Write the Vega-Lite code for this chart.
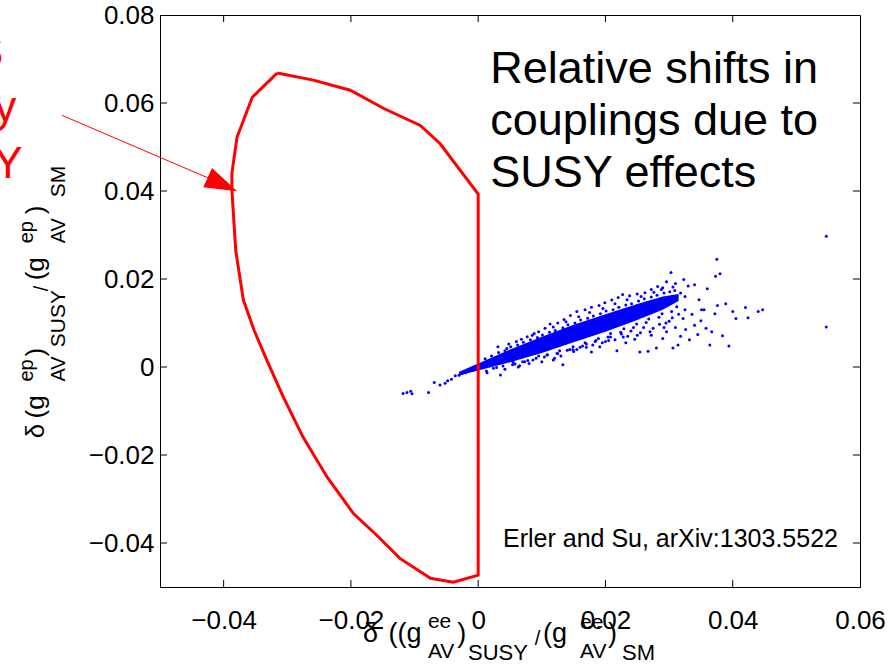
{
"$schema": "https://vega.github.io/schema/vega-lite/v6.json",
"width": 700, "height": 572,
"autosize": {"type": "none"},
"padding": {"left": 160, "top": 15, "right": 29, "bottom": 80},
"background": "white",
"data": {"values": [{}]},
"config": {
  "view": {"stroke": "black", "strokeWidth": 1},
  "axis": {"labelFont": "Liberation Sans", "labelFontSize": 26, "labelColor": "black", "tickColor": "black", "domainColor": "black", "grid": false, "labelFlush": false},
  "text": {"font": "Liberation Sans"}
},
"resolve": {"axis": {"x": "independent", "y": "independent"}},
"datasets": {
  "xt": [{"v": -0.04}, {"v": -0.02}, {"v": 0}, {"v": 0.02}, {"v": 0.04}],
  "yt": [{"v": -0.04}, {"v": -0.02}, {"v": 0}, {"v": 0.02}, {"v": 0.04}, {"v": 0.06}],
  "core": [
    {"ee": -0.003, "lo": -0.0019, "hi": -0.0011},
    {"ee": 0.0, "lo": -0.0008, "hi": 0.0008},
    {"ee": 0.005, "lo": 0.0011, "hi": 0.0040},
    {"ee": 0.010, "lo": 0.0032, "hi": 0.0069},
    {"ee": 0.015, "lo": 0.0056, "hi": 0.0096},
    {"ee": 0.020, "lo": 0.0080, "hi": 0.0120},
    {"ee": 0.025, "lo": 0.0107, "hi": 0.0143},
    {"ee": 0.029, "lo": 0.0130, "hi": 0.0160},
    {"ee": 0.0315, "lo": 0.0150, "hi": 0.0166}
  ],
  "pts": [
    {"ee": -0.0118, "ep": -0.0060}, {"ee": -0.0112, "ep": -0.0058}, {"ee": -0.0106, "ep": -0.0055}, {"ee": -0.0104, "ep": -0.0061},
    {"ee": -0.0078, "ep": -0.0058}, {"ee": -0.0069, "ep": -0.0035}, {"ee": -0.0060, "ep": -0.0041}, {"ee": -0.0052, "ep": -0.0037},
    {"ee": -0.0048, "ep": -0.0031}, {"ee": -0.0042, "ep": -0.0028}, {"ee": -0.0036, "ep": -0.0020}, {"ee": -0.0030, "ep": -0.0019},
    {"ee": -0.0025, "ep": -0.0015}, {"ee": -0.0020, "ep": -0.0013}, {"ee": -0.0016, "ep": -0.0010}, {"ee": -0.0012, "ep": -0.0006},
    {"ee": -0.0009, "ep": -0.0008}, {"ee": -0.0006, "ep": -0.0003},
    {"ee": 0.0031, "ep": 0.0046}, {"ee": 0.0045, "ep": 0.0042}, {"ee": 0.0060, "ep": 0.0058}, {"ee": 0.0077, "ep": 0.0069},
    {"ee": 0.0085, "ep": 0.0072}, {"ee": 0.0095, "ep": 0.0080}, {"ee": 0.0105, "ep": 0.0088}, {"ee": 0.0113, "ep": 0.0098},
    {"ee": 0.0125, "ep": 0.0100}, {"ee": 0.0135, "ep": 0.0108}, {"ee": 0.0145, "ep": 0.0117}, {"ee": 0.0155, "ep": 0.0126},
    {"ee": 0.0168, "ep": 0.0130}, {"ee": 0.0178, "ep": 0.0136}, {"ee": 0.0190, "ep": 0.0140}, {"ee": 0.0199, "ep": 0.0146},
    {"ee": 0.0210, "ep": 0.0152}, {"ee": 0.0220, "ep": 0.0158}, {"ee": 0.0227, "ep": 0.0165}, {"ee": 0.0238, "ep": 0.0162},
    {"ee": 0.0250, "ep": 0.0166}, {"ee": 0.0262, "ep": 0.0169}, {"ee": 0.0272, "ep": 0.0176}, {"ee": 0.0282, "ep": 0.0183},
    {"ee": 0.0290, "ep": 0.0180}, {"ee": 0.0296, "ep": 0.0194}, {"ee": 0.0303, "ep": 0.0215}, {"ee": 0.0310, "ep": 0.0190},
    {"ee": 0.0323, "ep": 0.0199}, {"ee": 0.0330, "ep": 0.0184}, {"ee": 0.0340, "ep": 0.0187}, {"ee": 0.0347, "ep": 0.0153},
    {"ee": 0.0351, "ep": 0.0130}, {"ee": 0.0360, "ep": 0.0178},
    {"ee": 0.0014, "ep": -0.0013}, {"ee": 0.0035, "ep": -0.0018}, {"ee": 0.0042, "ep": -0.0005}, {"ee": 0.0055, "ep": 0.0011},
    {"ee": 0.0063, "ep": 0.0000}, {"ee": 0.0070, "ep": 0.0012}, {"ee": 0.0086, "ep": 0.0016}, {"ee": 0.0095, "ep": 0.0025},
    {"ee": 0.0108, "ep": 0.0027}, {"ee": 0.0118, "ep": 0.0016}, {"ee": 0.0125, "ep": 0.0030}, {"ee": 0.0133, "ep": 0.0005},
    {"ee": 0.0140, "ep": 0.0038}, {"ee": 0.0149, "ep": 0.0039}, {"ee": 0.0160, "ep": 0.0045}, {"ee": 0.0170, "ep": 0.0052},
    {"ee": 0.0178, "ep": 0.0034}, {"ee": 0.0185, "ep": 0.0060}, {"ee": 0.0191, "ep": 0.0046}, {"ee": 0.0200, "ep": 0.0058},
    {"ee": 0.0208, "ep": 0.0068}, {"ee": 0.0218, "ep": 0.0037}, {"ee": 0.0225, "ep": 0.0075}, {"ee": 0.0232, "ep": 0.0055},
    {"ee": 0.0240, "ep": 0.0082}, {"ee": 0.0246, "ep": 0.0063}, {"ee": 0.0254, "ep": 0.0034}, {"ee": 0.0260, "ep": 0.0090},
    {"ee": 0.0267, "ep": 0.0036}, {"ee": 0.0272, "ep": 0.0072}, {"ee": 0.0280, "ep": 0.0043}, {"ee": 0.0285, "ep": 0.0097},
    {"ee": 0.0290, "ep": 0.0065}, {"ee": 0.0296, "ep": 0.0080}, {"ee": 0.0300, "ep": 0.0104}, {"ee": 0.0306, "ep": 0.0043},
    {"ee": 0.0310, "ep": 0.0090}, {"ee": 0.0314, "ep": 0.0050}, {"ee": 0.0318, "ep": 0.0070}, {"ee": 0.0322, "ep": 0.0110},
    {"ee": 0.0326, "ep": 0.0085}, {"ee": 0.0332, "ep": 0.0062}, {"ee": 0.0336, "ep": 0.0120}, {"ee": 0.0340, "ep": 0.0095},
    {"ee": 0.0345, "ep": 0.0074}, {"ee": 0.0350, "ep": 0.0105}, {"ee": 0.0355, "ep": 0.0130}, {"ee": 0.0358, "ep": 0.0088},
    {"ee": 0.0364, "ep": 0.0050}, {"ee": 0.0367, "ep": 0.0080}, {"ee": 0.0372, "ep": 0.0121}, {"ee": 0.0376, "ep": 0.0140},
    {"ee": 0.0384, "ep": 0.0071}, {"ee": 0.0389, "ep": 0.0144}, {"ee": 0.0394, "ep": 0.0048}, {"ee": 0.0400, "ep": 0.0126},
    {"ee": 0.0405, "ep": 0.0110}, {"ee": 0.0420, "ep": 0.0135}, {"ee": 0.0424, "ep": 0.0112}, {"ee": 0.0440, "ep": 0.0126},
    {"ee": 0.0447, "ep": 0.0130},
    {"ee": 0.0373, "ep": 0.0206}, {"ee": 0.0380, "ep": 0.0212}, {"ee": 0.0375, "ep": 0.0245}, {"ee": 0.0547, "ep": 0.0297}, {"ee": 0.0547, "ep": 0.0091},
    {"ee": 0.0011, "ep": 0.0019}, {"ee": 0.0013, "ep": -0.0009}, {"ee": 0.0021, "ep": 0.0025}, {"ee": 0.0024, "ep": -0.0003},
    {"ee": 0.0032, "ep": 0.0033}, {"ee": 0.0029, "ep": -0.0001}, {"ee": 0.0042, "ep": 0.0037}, {"ee": 0.0039, "ep": 0.0002},
    {"ee": 0.0051, "ep": 0.0046}, {"ee": 0.0054, "ep": 0.0005}, {"ee": 0.0062, "ep": 0.0050}, {"ee": 0.0058, "ep": 0.0007},
    {"ee": 0.0071, "ep": 0.0056}, {"ee": 0.0073, "ep": 0.0012}, {"ee": 0.0082, "ep": 0.0062}, {"ee": 0.0078, "ep": 0.0015},
    {"ee": 0.0093, "ep": 0.0067}, {"ee": 0.0091, "ep": 0.0020}, {"ee": 0.0101, "ep": 0.0073}, {"ee": 0.0104, "ep": 0.0023},
    {"ee": 0.0112, "ep": 0.0079}, {"ee": 0.0109, "ep": 0.0028}, {"ee": 0.0121, "ep": 0.0083}, {"ee": 0.0124, "ep": 0.0031},
    {"ee": 0.0133, "ep": 0.0089}, {"ee": 0.0128, "ep": 0.0037}, {"ee": 0.0141, "ep": 0.0096}, {"ee": 0.0144, "ep": 0.0040},
    {"ee": 0.0152, "ep": 0.0100}, {"ee": 0.0149, "ep": 0.0046}, {"ee": 0.0161, "ep": 0.0107}, {"ee": 0.0164, "ep": 0.0048},
    {"ee": 0.0172, "ep": 0.0111}, {"ee": 0.0168, "ep": 0.0055}, {"ee": 0.0181, "ep": 0.0116}, {"ee": 0.0184, "ep": 0.0058},
    {"ee": 0.0192, "ep": 0.0121}, {"ee": 0.0189, "ep": 0.0065}, {"ee": 0.0201, "ep": 0.0127}, {"ee": 0.0204, "ep": 0.0068},
    {"ee": 0.0212, "ep": 0.0130}, {"ee": 0.0208, "ep": 0.0076}, {"ee": 0.0221, "ep": 0.0136}, {"ee": 0.0224, "ep": 0.0079},
    {"ee": 0.0232, "ep": 0.0141}, {"ee": 0.0229, "ep": 0.0087}, {"ee": 0.0241, "ep": 0.0144}, {"ee": 0.0244, "ep": 0.0090},
    {"ee": 0.0252, "ep": 0.0150}, {"ee": 0.0249, "ep": 0.0098}, {"ee": 0.0261, "ep": 0.0155}, {"ee": 0.0264, "ep": 0.0101},
    {"ee": 0.0272, "ep": 0.0159}, {"ee": 0.0268, "ep": 0.0109}, {"ee": 0.0281, "ep": 0.0163}, {"ee": 0.0284, "ep": 0.0113},
    {"ee": 0.0292, "ep": 0.0168}, {"ee": 0.0289, "ep": 0.0121}, {"ee": 0.0301, "ep": 0.0171}, {"ee": 0.0304, "ep": 0.0126},
    {"ee": 0.0309, "ep": 0.0174}, {"ee": 0.0312, "ep": 0.0137},
    {"ee": 0.0150, "ep": 0.0035}, {"ee": 0.0170, "ep": 0.0045}, {"ee": 0.0195, "ep": 0.0055}, {"ee": 0.0215, "ep": 0.0062},
    {"ee": 0.0235, "ep": 0.0070}, {"ee": 0.0255, "ep": 0.0078}, {"ee": 0.0275, "ep": 0.0088}, {"ee": 0.0295, "ep": 0.0100},
    {"ee": 0.0305, "ep": 0.0112}, {"ee": 0.0315, "ep": 0.0120}, {"ee": 0.0325, "ep": 0.0130}, {"ee": 0.0120, "ep": 0.0020},
    {"ee": 0.0100, "ep": 0.0012}, {"ee": 0.0080, "ep": 0.0008}, {"ee": 0.0065, "ep": 0.0003},
    {"ee": 0.0048, "ep": 0.0052}, {"ee": 0.0068, "ep": 0.0063}, {"ee": 0.0088, "ep": 0.0076}, {"ee": 0.0118, "ep": 0.0091},
    {"ee": 0.0138, "ep": 0.0103}, {"ee": 0.0158, "ep": 0.0114}, {"ee": 0.0175, "ep": 0.0124}, {"ee": 0.0196, "ep": 0.0133},
    {"ee": 0.0215, "ep": 0.0144}, {"ee": 0.0234, "ep": 0.0153}, {"ee": 0.0256, "ep": 0.0160}, {"ee": 0.0276, "ep": 0.0170},
    {"ee": 0.0288, "ep": 0.0176}, {"ee": 0.0306, "ep": 0.0182}, {"ee": 0.0318, "ep": 0.0168}, {"ee": 0.0325, "ep": 0.0160},
    {"ee": 0.0130, "ep": 0.0025}, {"ee": 0.0155, "ep": 0.0040}, {"ee": 0.0180, "ep": 0.0050}, {"ee": 0.0205, "ep": 0.0060},
    {"ee": 0.0228, "ep": 0.0068}, {"ee": 0.0250, "ep": 0.0072}, {"ee": 0.0270, "ep": 0.0080}, {"ee": 0.0292, "ep": 0.0090}
  ],
  "contour": [
    {"i": 0, "ee": -0.0316, "ep": 0.0668}, {"i": 1, "ee": -0.0355, "ep": 0.0613}, {"i": 2, "ee": -0.0379, "ep": 0.0522},
    {"i": 3, "ee": -0.0387, "ep": 0.0440}, {"i": 4, "ee": -0.0387, "ep": 0.0402}, {"i": 5, "ee": -0.0381, "ep": 0.0265},
    {"i": 6, "ee": -0.0369, "ep": 0.0152}, {"i": 7, "ee": -0.0352, "ep": 0.0083}, {"i": 8, "ee": -0.0332, "ep": 0.0015},
    {"i": 9, "ee": -0.0306, "ep": -0.0069}, {"i": 10, "ee": -0.0275, "ep": -0.0160}, {"i": 11, "ee": -0.0237, "ep": -0.0251},
    {"i": 12, "ee": -0.0196, "ep": -0.0333}, {"i": 13, "ee": -0.0159, "ep": -0.0383}, {"i": 14, "ee": -0.0123, "ep": -0.0435},
    {"i": 15, "ee": -0.0075, "ep": -0.0480}, {"i": 16, "ee": -0.0039, "ep": -0.0489}, {"i": 17, "ee": 0.0, "ep": -0.0473},
    {"i": 18, "ee": 0.0, "ep": 0.0393}, {"i": 19, "ee": -0.0060, "ep": 0.0508}, {"i": 20, "ee": -0.0091, "ep": 0.0549},
    {"i": 21, "ee": -0.0149, "ep": 0.0588}, {"i": 22, "ee": -0.0201, "ep": 0.0629}, {"i": 23, "ee": -0.0259, "ep": 0.0652},
    {"i": 24, "ee": -0.0316, "ep": 0.0668}
  ]
},
"layer": [
  {
    "data": {"name": "core"},
    "mark": {"type": "area", "color": "#0000ff"},
    "encoding": {
      "x": {"field": "ee", "type": "quantitative", "axis": null},
      "y": {"field": "lo", "type": "quantitative", "axis": null},
      "y2": {"field": "hi"}
    }
  },
  {
    "data": {"name": "pts"},
    "mark": {"type": "point", "filled": true, "size": 9, "color": "#0000ff", "opacity": 1},
    "encoding": {
      "x": {"field": "ee", "type": "quantitative", "scale": {"domain": [-0.05, 0.06], "nice": false, "zero": false},
            "axis": {"orient": "bottom", "values": [-0.04, -0.02, 0, 0.02, 0.04, 0.06], "format": ".2~f", "labelPadding": 20, "ticks": false, "title": null}},
      "y": {"field": "ep", "type": "quantitative", "scale": {"domain": [-0.05, 0.08], "nice": false, "zero": false},
            "axis": {"orient": "left", "values": [-0.04, -0.02, 0, 0.02, 0.04, 0.06, 0.08], "format": ".2~f", "labelPadding": 6, "ticks": false, "title": null}}
    }
  },
  {
    "data": {"name": "xt"},
    "mark": {"type": "rule", "color": "black", "strokeWidth": 1},
    "encoding": {
      "x": {"field": "v", "type": "quantitative", "axis": null},
      "y": {"datum": -0.05, "type": "quantitative", "axis": null},
      "y2": {"datum": -0.0484}
    }
  },
  {
    "data": {"name": "xt"},
    "mark": {"type": "rule", "color": "black", "strokeWidth": 1},
    "encoding": {
      "x": {"field": "v", "type": "quantitative", "axis": null},
      "y": {"datum": 0.08, "type": "quantitative", "axis": null},
      "y2": {"datum": 0.0784}
    }
  },
  {
    "data": {"name": "yt"},
    "mark": {"type": "rule", "color": "black", "strokeWidth": 1},
    "encoding": {
      "y": {"field": "v", "type": "quantitative", "axis": null},
      "x": {"datum": -0.05, "type": "quantitative", "axis": null},
      "x2": {"datum": -0.0489}
    }
  },
  {
    "data": {"name": "yt"},
    "mark": {"type": "rule", "color": "black", "strokeWidth": 1},
    "encoding": {
      "y": {"field": "v", "type": "quantitative", "axis": null},
      "x": {"datum": 0.06, "type": "quantitative", "axis": null},
      "x2": {"datum": 0.0589}
    }
  },
  {
    "data": {"name": "contour"},
    "mark": {"type": "line", "color": "#ff0000", "strokeWidth": 3, "strokeJoin": "miter"},
    "encoding": {
      "x": {"field": "ee", "type": "quantitative", "axis": null},
      "y": {"field": "ep", "type": "quantitative", "axis": null},
      "order": {"field": "i", "type": "quantitative"}
    }
  },
  {
    "mark": {"type": "rule", "color": "#ff0000", "strokeWidth": 1},
    "encoding": {
      "x": {"datum": -0.0654, "type": "quantitative", "axis": null},
      "y": {"datum": 0.0572, "type": "quantitative", "axis": null},
      "x2": {"datum": -0.0425},
      "y2": {"datum": 0.0430}
    }
  },
  {
    "mark": {"type": "point", "shape": "M 1 0 L -1 -0.65 L -1 0.65 Z", "filled": true, "color": "#ff0000", "opacity": 1, "size": 1050, "angle": 24.6},
    "encoding": {
      "x": {"datum": -0.0402, "type": "quantitative", "axis": null},
      "y": {"datum": 0.0415, "type": "quantitative", "axis": null}
    }
  },
  {
    "mark": {"type": "text", "text": "S", "fontSize": 44, "color": "#ff0000", "align": "right", "baseline": "alphabetic"},
    "encoding": {"x": {"datum": -0.0746, "type": "quantitative", "axis": null}, "y": {"datum": 0.0681, "type": "quantitative", "axis": null}}
  },
  {
    "mark": {"type": "text", "text": "y", "fontSize": 44, "color": "#ff0000", "align": "right", "baseline": "alphabetic"},
    "encoding": {"x": {"datum": -0.0726, "type": "quantitative", "axis": null}, "y": {"datum": 0.0556, "type": "quantitative", "axis": null}}
  },
  {
    "mark": {"type": "text", "text": "Y", "fontSize": 44, "color": "#ff0000", "align": "right", "baseline": "alphabetic"},
    "encoding": {"x": {"datum": -0.0716, "type": "quantitative", "axis": null}, "y": {"datum": 0.0430, "type": "quantitative", "axis": null}}
  },
  {
    "mark": {"type": "text", "text": ["Relative shifts in", "couplings due to", "SUSY effects"], "fontSize": 45, "lineHeight": 52, "color": "black", "align": "left", "baseline": "alphabetic"},
    "encoding": {"x": {"datum": 0.0019, "type": "quantitative", "axis": null}, "y": {"datum": 0.0645, "type": "quantitative", "axis": null}}
  },
  {
    "mark": {"type": "text", "text": "Erler and Su, arXiv:1303.5522", "fontSize": 25, "color": "black", "align": "left", "baseline": "alphabetic"},
    "encoding": {"x": {"datum": 0.0039, "type": "quantitative", "axis": null}, "y": {"datum": -0.0409, "type": "quantitative", "axis": null}}
  },
  {"mark": {"type": "text", "text": "δ", "fontSize": 27, "align": "left", "baseline": "alphabetic"},
   "encoding": {"x": {"datum": -0.0181, "type": "quantitative", "axis": null}, "y": {"datum": -0.0626, "type": "quantitative", "axis": null}}},
  {"mark": {"type": "text", "text": "((g", "fontSize": 27, "align": "left", "baseline": "alphabetic"},
   "encoding": {"x": {"datum": -0.0141, "type": "quantitative", "axis": null}, "y": {"datum": -0.0626, "type": "quantitative", "axis": null}}},
  {"mark": {"type": "text", "text": "ee", "fontSize": 21, "align": "left", "baseline": "alphabetic"},
   "encoding": {"x": {"datum": -0.0079, "type": "quantitative", "axis": null}, "y": {"datum": -0.0594, "type": "quantitative", "axis": null}}},
  {"mark": {"type": "text", "text": "AV", "fontSize": 21, "align": "left", "baseline": "alphabetic"},
   "encoding": {"x": {"datum": -0.0079, "type": "quantitative", "axis": null}, "y": {"datum": -0.0662, "type": "quantitative", "axis": null}}},
  {"mark": {"type": "text", "text": ")", "fontSize": 27, "align": "left", "baseline": "alphabetic"},
   "encoding": {"x": {"datum": -0.0033, "type": "quantitative", "axis": null}, "y": {"datum": -0.0626, "type": "quantitative", "axis": null}}},
  {"mark": {"type": "text", "text": "SUSY", "fontSize": 22, "align": "left", "baseline": "alphabetic"},
   "encoding": {"x": {"datum": -0.0016, "type": "quantitative", "axis": null}, "y": {"datum": -0.0667, "type": "quantitative", "axis": null}}},
  {"mark": {"type": "text", "text": "/", "fontSize": 20, "align": "left", "baseline": "alphabetic"},
   "encoding": {"x": {"datum": 0.0089, "type": "quantitative", "axis": null}, "y": {"datum": -0.0632, "type": "quantitative", "axis": null}}},
  {"mark": {"type": "text", "text": "(g", "fontSize": 27, "align": "left", "baseline": "alphabetic"},
   "encoding": {"x": {"datum": 0.0102, "type": "quantitative", "axis": null}, "y": {"datum": -0.0626, "type": "quantitative", "axis": null}}},
  {"mark": {"type": "text", "text": "ee", "fontSize": 21, "align": "left", "baseline": "alphabetic"},
   "encoding": {"x": {"datum": 0.0160, "type": "quantitative", "axis": null}, "y": {"datum": -0.0596, "type": "quantitative", "axis": null}}},
  {"mark": {"type": "text", "text": "AV", "fontSize": 21, "align": "left", "baseline": "alphabetic"},
   "encoding": {"x": {"datum": 0.0160, "type": "quantitative", "axis": null}, "y": {"datum": -0.0662, "type": "quantitative", "axis": null}}},
  {"mark": {"type": "text", "text": ")", "fontSize": 27, "align": "left", "baseline": "alphabetic"},
   "encoding": {"x": {"datum": 0.0204, "type": "quantitative", "axis": null}, "y": {"datum": -0.0626, "type": "quantitative", "axis": null}}},
  {"mark": {"type": "text", "text": "SM", "fontSize": 22, "align": "left", "baseline": "alphabetic"},
   "encoding": {"x": {"datum": 0.0226, "type": "quantitative", "axis": null}, "y": {"datum": -0.0667, "type": "quantitative", "axis": null}}},
  {"mark": {"type": "text", "text": "δ", "fontSize": 26, "angle": 270, "align": "left", "baseline": "alphabetic"},
   "encoding": {"x": {"datum": -0.0682, "type": "quantitative", "axis": null}, "y": {"datum": -0.0162, "type": "quantitative", "axis": null}}},
  {"mark": {"type": "text", "text": "(g", "fontSize": 26, "angle": 270, "align": "left", "baseline": "alphabetic"},
   "encoding": {"x": {"datum": -0.0682, "type": "quantitative", "axis": null}, "y": {"datum": -0.0117, "type": "quantitative", "axis": null}}},
  {"mark": {"type": "text", "text": "ep", "fontSize": 20, "angle": 270, "align": "left", "baseline": "alphabetic"},
   "encoding": {"x": {"datum": -0.0699, "type": "quantitative", "axis": null}, "y": {"datum": -0.0033, "type": "quantitative", "axis": null}}},
  {"mark": {"type": "text", "text": "AV", "fontSize": 20, "angle": 270, "align": "left", "baseline": "alphabetic"},
   "encoding": {"x": {"datum": -0.0649, "type": "quantitative", "axis": null}, "y": {"datum": -0.0033, "type": "quantitative", "axis": null}}},
  {"mark": {"type": "text", "text": ")", "fontSize": 26, "angle": 270, "align": "left", "baseline": "alphabetic"},
   "encoding": {"x": {"datum": -0.0682, "type": "quantitative", "axis": null}, "y": {"datum": 0.0024, "type": "quantitative", "axis": null}}},
  {"mark": {"type": "text", "text": "SUSY", "fontSize": 21, "angle": 270, "align": "left", "baseline": "alphabetic"},
   "encoding": {"x": {"datum": -0.0649, "type": "quantitative", "axis": null}, "y": {"datum": 0.0045, "type": "quantitative", "axis": null}}},
  {"mark": {"type": "text", "text": "/", "fontSize": 20, "angle": 270, "align": "left", "baseline": "alphabetic"},
   "encoding": {"x": {"datum": -0.0676, "type": "quantitative", "axis": null}, "y": {"datum": 0.0172, "type": "quantitative", "axis": null}}},
  {"mark": {"type": "text", "text": "(g", "fontSize": 26, "angle": 270, "align": "left", "baseline": "alphabetic"},
   "encoding": {"x": {"datum": -0.0682, "type": "quantitative", "axis": null}, "y": {"datum": 0.0197, "type": "quantitative", "axis": null}}},
  {"mark": {"type": "text", "text": "ep", "fontSize": 20, "angle": 270, "align": "left", "baseline": "alphabetic"},
   "encoding": {"x": {"datum": -0.0699, "type": "quantitative", "axis": null}, "y": {"datum": 0.0281, "type": "quantitative", "axis": null}}},
  {"mark": {"type": "text", "text": "AV", "fontSize": 20, "angle": 270, "align": "left", "baseline": "alphabetic"},
   "encoding": {"x": {"datum": -0.0649, "type": "quantitative", "axis": null}, "y": {"datum": 0.0281, "type": "quantitative", "axis": null}}},
  {"mark": {"type": "text", "text": ")", "fontSize": 26, "angle": 270, "align": "left", "baseline": "alphabetic"},
   "encoding": {"x": {"datum": -0.0682, "type": "quantitative", "axis": null}, "y": {"datum": 0.0347, "type": "quantitative", "axis": null}}},
  {"mark": {"type": "text", "text": "SM", "fontSize": 21, "angle": 270, "align": "left", "baseline": "alphabetic"},
   "encoding": {"x": {"datum": -0.0649, "type": "quantitative", "axis": null}, "y": {"datum": 0.0386, "type": "quantitative", "axis": null}}}
]
}
